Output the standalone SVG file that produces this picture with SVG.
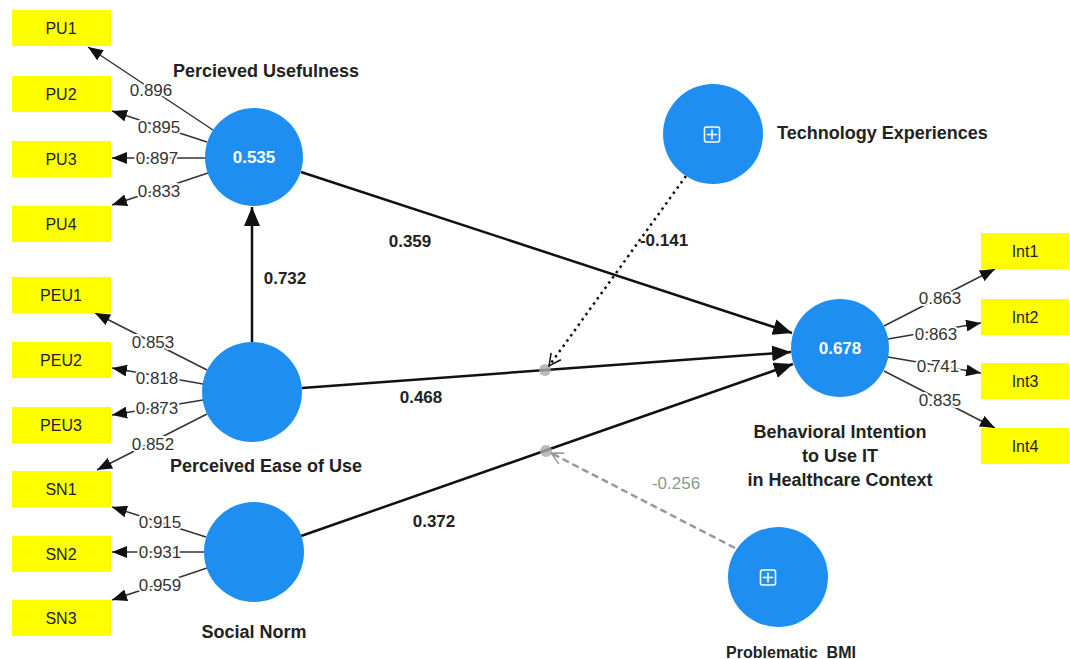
<svg xmlns="http://www.w3.org/2000/svg" width="1070" height="659" viewBox="0 0 1070 659">
<style>
.box{fill:#FFFF00}
.bt{font-family:"Liberation Sans",Arial,sans-serif;font-size:16px;fill:#222;text-anchor:middle}
.lv{fill:#1E8FF0}
.lvt{font-family:"Liberation Sans",Arial,sans-serif;font-size:17px;font-weight:bold;fill:#fff;text-anchor:middle}
.nl{font-family:"Liberation Sans",Arial,sans-serif;font-size:18px;font-weight:bold;fill:#222;text-anchor:middle}
.ld{stroke:#333;stroke-width:1.5;fill:none}
.st{stroke:#111;stroke-width:2.5;fill:none}
.lt{font-family:"Liberation Sans",Arial,sans-serif;font-size:17px;fill:#333;text-anchor:middle;stroke:#fff;stroke-width:4;paint-order:stroke}
.pc{font-family:"Liberation Sans",Arial,sans-serif;font-size:17px;font-weight:bold;fill:#222;text-anchor:middle}
.icon{fill:none;stroke:#fff;stroke-width:1.6}
</style>
<defs>
<marker id="ah" markerUnits="userSpaceOnUse" markerWidth="16" markerHeight="12" refX="15" refY="6" orient="auto"><path d="M0,0 L15,6 L0,12 Z" fill="#111"/></marker>
<marker id="ah2" markerUnits="userSpaceOnUse" markerWidth="20" markerHeight="16" refX="19" refY="8" orient="auto"><path d="M0,0 L19,8 L0,16 Z" fill="#111"/></marker>
<marker id="oa" markerUnits="userSpaceOnUse" markerWidth="14" markerHeight="14" refX="13" refY="7" orient="auto"><path d="M1,1 L13,7 L1,13" fill="none" stroke="#111" stroke-width="1.5"/></marker>
<marker id="og" markerUnits="userSpaceOnUse" markerWidth="14" markerHeight="14" refX="13" refY="7" orient="auto"><path d="M1,1 L13,7 L1,13" fill="none" stroke="#999" stroke-width="1.5"/></marker>
</defs>
<rect width="1070" height="659" fill="#fff"/>
<g id="connectors">
<line class="ld" x1="213" y1="130" x2="88" y2="47" marker-end="url(#ah)"/>
<line class="ld" x1="207" y1="142" x2="112" y2="111" marker-end="url(#ah)"/>
<line class="ld" x1="205" y1="158" x2="112" y2="158" marker-end="url(#ah)"/>
<line class="ld" x1="208" y1="173" x2="112" y2="205" marker-end="url(#ah)"/>
<line class="ld" x1="207" y1="370" x2="95" y2="313" marker-end="url(#ah)"/>
<line class="ld" x1="203" y1="384" x2="112" y2="368" marker-end="url(#ah)"/>
<line class="ld" x1="203" y1="400" x2="112" y2="415" marker-end="url(#ah)"/>
<line class="ld" x1="207" y1="414" x2="97" y2="470" marker-end="url(#ah)"/>
<line class="ld" x1="206" y1="537" x2="112" y2="507" marker-end="url(#ah)"/>
<line class="ld" x1="204" y1="552" x2="112" y2="552" marker-end="url(#ah)"/>
<line class="ld" x1="207" y1="568" x2="112" y2="600" marker-end="url(#ah)"/>
<line class="ld" x1="884" y1="326" x2="995" y2="269" marker-end="url(#ah)"/>
<line class="ld" x1="888" y1="339" x2="981" y2="323" marker-end="url(#ah)"/>
<line class="ld" x1="888" y1="357" x2="981" y2="373" marker-end="url(#ah)"/>
<line class="ld" x1="884" y1="371" x2="995" y2="428" marker-end="url(#ah)"/>
<line class="st" x1="301" y1="172" x2="792" y2="333" marker-end="url(#ah2)"/>
<line class="st" x1="302" y1="388" x2="791" y2="352" marker-end="url(#ah2)"/>
<line class="st" x1="301" y1="536" x2="793" y2="364" marker-end="url(#ah2)"/>
<line class="st" x1="252" y1="342" x2="252" y2="207" marker-end="url(#ah2)"/>
<circle cx="545" cy="370" r="6" fill="#aaa" opacity="0.8"/>
<circle cx="546" cy="451" r="6" fill="#aaa" opacity="0.8"/>
<line x1="686" y1="176" x2="549" y2="366" stroke="#111" stroke-width="2.5" stroke-dasharray="2.5,4" marker-end="url(#oa)"/>
<line x1="735" y1="548" x2="551" y2="453" stroke="#999" stroke-width="2.5" stroke-dasharray="7,4" marker-end="url(#og)"/>
<text class="lt" x="151" y="96">0.896</text>
<text class="lt" x="159" y="133">0.895</text>
<text class="lt" x="157" y="164">0.897</text>
<text class="lt" x="159" y="197">0.833</text>
<text class="lt" x="153" y="348">0.853</text>
<text class="lt" x="157" y="384">0.818</text>
<text class="lt" x="157" y="414">0.873</text>
<text class="lt" x="153" y="450">0.852</text>
<text class="lt" x="160" y="528">0.915</text>
<text class="lt" x="160" y="558">0.931</text>
<text class="lt" x="160" y="591">0.959</text>
<text class="lt" x="940" y="304">0.863</text>
<text class="lt" x="936" y="340">0.863</text>
<text class="lt" x="938" y="372">0.741</text>
<text class="lt" x="940" y="406">0.835</text>
<text class="pc" x="410" y="247">0.359</text>
<text class="pc" x="285" y="284">0.732</text>
<text class="pc" x="421" y="403">0.468</text>
<text class="pc" x="434" y="527">0.372</text>
<text class="pc" x="664" y="246">-0.141</text>
<text class="pc" x="676" y="489" style="fill:#8a9a8a;font-weight:normal">-0.256</text>
</g>
<g id="PU1"><rect class="box" x="12" y="10" width="99" height="36"/><text class="bt" x="61" y="34">PU1</text></g>
<g id="PU2"><rect class="box" x="12" y="76" width="99" height="36"/><text class="bt" x="61" y="100">PU2</text></g>
<g id="PU3"><rect class="box" x="12" y="141" width="99" height="36"/><text class="bt" x="61" y="165">PU3</text></g>
<g id="PU4"><rect class="box" x="12" y="206" width="99" height="36"/><text class="bt" x="61" y="230">PU4</text></g>
<g id="PEU1"><rect class="box" x="12" y="277" width="99" height="36"/><text class="bt" x="61" y="301">PEU1</text></g>
<g id="PEU2"><rect class="box" x="12" y="342" width="99" height="36"/><text class="bt" x="61" y="366">PEU2</text></g>
<g id="PEU3"><rect class="box" x="12" y="407" width="99" height="36"/><text class="bt" x="61" y="431">PEU3</text></g>
<g id="SN1"><rect class="box" x="12" y="471" width="99" height="36"/><text class="bt" x="61" y="495">SN1</text></g>
<g id="SN2"><rect class="box" x="12" y="536" width="99" height="36"/><text class="bt" x="61" y="560">SN2</text></g>
<g id="SN3"><rect class="box" x="12" y="600" width="99" height="36"/><text class="bt" x="61" y="624">SN3</text></g>
<g id="Int1"><rect class="box" x="981" y="233" width="88" height="36"/><text class="bt" x="1025" y="257">Int1</text></g>
<g id="Int2"><rect class="box" x="981" y="299" width="88" height="36"/><text class="bt" x="1025" y="323">Int2</text></g>
<g id="Int3"><rect class="box" x="981" y="363" width="88" height="36"/><text class="bt" x="1025" y="387">Int3</text></g>
<g id="Int4"><rect class="box" x="981" y="428" width="88" height="36"/><text class="bt" x="1025" y="452">Int4</text></g>
<g id="PU"><circle class="lv" cx="254" cy="157" r="49"/><text class="lvt" x="254" y="163">0.535</text><text class="nl" x="266" y="77">Percieved Usefulness</text></g>
<g id="PEU"><circle class="lv" cx="252" cy="392" r="50"/><text class="nl" x="266" y="472">Perceived Ease of Use</text></g>
<g id="SN"><circle class="lv" cx="254" cy="552" r="50"/><text class="nl" x="254" y="638">Social Norm</text></g>
<g id="BI"><circle class="lv" cx="840" cy="348" r="49"/><text class="lvt" x="840" y="354">0.678</text>
<text class="nl" x="840" y="438">Behavioral Intention</text><text class="nl" x="840" y="462">to Use IT</text><text class="nl" x="840" y="486">in Healthcare Context</text></g>
<g id="TE"><circle class="lv" cx="713" cy="134" r="50"/><rect class="icon" x="704.5" y="127" width="15" height="15" rx="2"/><path class="icon" d="M712,129.5 V139.5 M707,134.5 H717"/><text class="nl" x="777" y="139" style="text-anchor:start">Technology Experiences</text></g>
<g id="BMI"><circle class="lv" cx="778" cy="577" r="50"/><rect class="icon" x="760.5" y="570" width="15" height="15" rx="2"/><path class="icon" d="M768,572.5 V582.5 M763,577.5 H773"/><text class="nl" x="791" y="658" style="font-size:16px" xml:space="preserve">Problematic  BMI</text></g>
</svg>
